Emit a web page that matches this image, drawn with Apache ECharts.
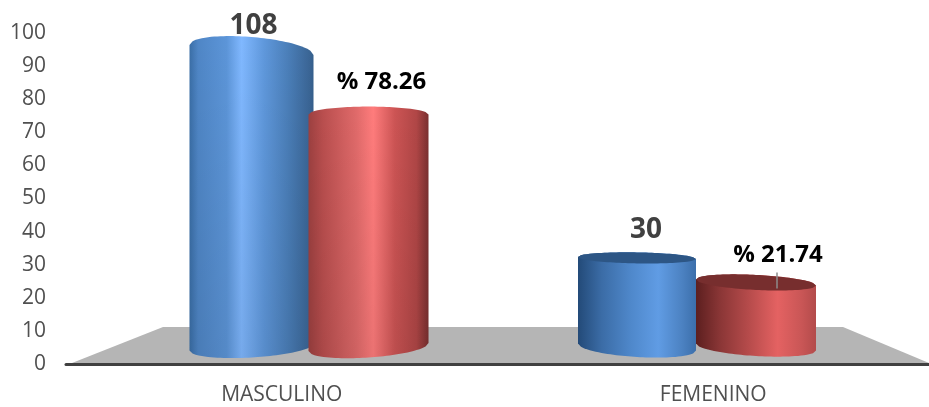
<!DOCTYPE html>
<html>
<head>
<meta charset="utf-8">
<style>html,body{margin:0;padding:0;background:#fff}#chart{width:929px;height:407px}</style>
<script src="https://cdn.jsdelivr.net/npm/echarts@6/dist/echarts.min.js"></script>
</head>
<body>
<div id="chart"></div>
<script>
const categories = ['MASCULINO', 'FEMENINO'];
const counts = [108, 30];
const percents = [78.26, 21.74];
const yTicks = [0, 10, 20, 30, 40, 50, 60, 70, 80, 90, 100];

// The value axis stops at 100, so taller columns are cut off at that ceiling.
const AXIS_CEILING = 100;
const FONT = '"Open Sans", "Noto Sans", sans-serif';

// Appearance of each cylinder, by series then category.
const looks = {
  count: [
    { dx: -57.5, half: 62, topRy: 13, topTilt: 5, baseRy: 10.5, baseTilt: -3.5, lid: null, shade: 0.08,
      stops: [[0, '#3a6ea6'], [0.07, '#4f86c6'], [0.3, '#5c95d8'], [0.42, '#80b8ff'], [0.6, '#5f98dc'], [0.8, '#4a7eb8'], [0.97, '#3a6595'], [1, '#355f8c']],
      label: { dx: 2, dy: -24, size: 28, color: '#404040' } },
    { dx: -60, half: 59, topRy: 5.5, topTilt: 1, baseRy: 10, baseTilt: 3.5, lid: '#2d5685',
      stops: [[0, '#234a78'], [0.2, '#3b6ca6'], [0.45, '#4f88cb'], [0.68, '#609ce4'], [0.88, '#4c82c2'], [1, '#3c6fab']],
      label: { dx: 9, dy: -28, size: 28, color: '#404040' } }
  ],
  percent: [
    { dx: 59.5, half: 60, topRy: 8, topTilt: 0, baseRy: 10.5, baseTilt: -4, lid: null, shade: 0.08,
      stops: [[0, '#9c4040'], [0.12, '#b94e4e'], [0.4, '#e06a6a'], [0.54, '#ff7c7c'], [0.72, '#cc5454'], [0.9, '#b04646'], [1, '#7a3030']],
      label: { dx: 13, dy: -32, size: 24, color: '#000000' } },
    { dx: 59, half: 60, topRy: 7.5, topTilt: 3, baseRy: 9, baseTilt: 3.5, lid: '#772e2e',
      stops: [[0, '#5c1f1f'], [0.2, '#8a3636'], [0.45, '#b84c4c'], [0.68, '#e46262'], [0.88, '#c95656'], [1, '#b34b4b']],
      label: { dx: 22, dy: -27, size: 24, color: '#000000' }, leader: { dx: 21, from: -10, to: 6 } }
  ]
};

// Traces half an ellipse from left to right; side -1 is the far arc, +1 the near arc.
function arc(cx, half, cy, ry, tilt, side) {
  const pts = [];
  for (let i = 0; i <= 40; i++) {
    const t = -1 + i / 20;
    pts.push([cx + t * half, cy + tilt * t + side * ry * Math.sqrt(1 - t * t)]);
  }
  return pts;
}

function cylinderSeries(name, values, formatLabel) {
  return {
    type: 'custom',
    name: name,
    xAxisIndex: 1,
    yAxisIndex: 1,
    clip: false,
    data: values.map((v, i) => [i, v]),
    encode: { x: 0, y: 1 },
    renderItem(params, api) {
      const i = api.value(0);
      const value = api.value(1);
      const look = looks[name][i];
      const center = api.coord([i, 0])[0] + look.dx;
      const base = api.coord([i, 0])[1];
      const top = api.coord([i, Math.min(value, AXIS_CEILING)])[1];
      const far = arc(center, look.half, top, look.topRy, look.topTilt, -1);
      const near = arc(center, look.half, base, look.baseRy, look.baseTilt, 1).reverse();
      const outline = far.concat(near);
      const children = [{
        type: 'polygon',
        shape: { points: outline },
        style: {
          fill: new echarts.graphic.LinearGradient(0, 0, 1, 0,
            look.stops.map(s => ({ offset: s[0], color: s[1] })))
        }
      }];
      if (look.shade) {
        // Tall columns dim slightly toward the floor.
        children.push({
          type: 'polygon',
          shape: { points: outline },
          style: {
            fill: new echarts.graphic.LinearGradient(0, 0, 0, 1, [
              { offset: 0, color: 'rgba(0,0,0,0)' },
              { offset: 1, color: 'rgba(0,0,0,' + look.shade + ')' }
            ])
          }
        });
      }
      if (look.lid) {
        const lidFront = arc(center, look.half, top, look.topRy, look.topTilt, 1).reverse();
        children.push({
          type: 'polygon',
          shape: { points: far.concat(lidFront) },
          style: { fill: look.lid }
        });
      }
      if (look.leader) {
        const lx = center + look.leader.dx;
        children.push({
          type: 'line',
          shape: { x1: lx, y1: top + look.leader.from, x2: lx, y2: top + look.leader.to },
          style: { stroke: '#8c8c8c', lineWidth: 1.5 }
        });
      }
      children.push({
        type: 'text',
        style: {
          text: formatLabel(value),
          x: center + look.label.dx,
          y: top + look.label.dy,
          align: 'center',
          verticalAlign: 'middle',
          font: 'bold ' + look.label.size + 'px ' + FONT,
          fill: look.label.color
        }
      });
      return { type: 'group', children: children };
    }
  };
}

const chart = echarts.init(document.getElementById('chart'), null, { renderer: 'canvas' });
chart.setOption({
  animation: false,
  backgroundColor: '#ffffff',
  graphic: [{
    type: 'polygon',
    z: 0,
    shape: { points: [[72, 363], [163, 327], [843, 327], [929, 363]] },
    style: { fill: '#b5b5b5' }
  }],
  grid: [
    { left: 66, width: 872, top: 33, bottom: 43 },
    { left: 115, right: 38, top: 33, bottom: 43 }
  ],
  xAxis: [
    {
      type: 'category', gridIndex: 0, data: categories,
      axisTick: { show: false },
      axisLine: { lineStyle: { color: '#404040', width: 3 } },
      axisLabel: { color: '#505050', fontFamily: FONT, fontSize: 21, margin: 21 }
    },
    { type: 'category', gridIndex: 1, data: categories, show: false }
  ],
  yAxis: [
    {
      type: 'value', gridIndex: 0, min: 0, max: 100, interval: 10,
      axisLine: { show: false },
      axisTick: { show: false },
      splitLine: { show: false },
      axisLabel: {
        color: '#505050', fontFamily: FONT, fontSize: 21, margin: 20,
        padding: [9, 0, 0, 0],
        formatter: v => (yTicks.includes(v) ? String(v) : '')
      }
    },
    // Columns stand on the middle of the floor, a little above the front axis line.
    { type: 'value', gridIndex: 1, min: -5.72, max: 105.72, show: false, splitLine: { show: false } }
  ],
  series: [
    cylinderSeries('count', counts, v => String(v)),
    cylinderSeries('percent', percents, v => '% ' + v)
  ]
});
</script>
</body>
</html>
